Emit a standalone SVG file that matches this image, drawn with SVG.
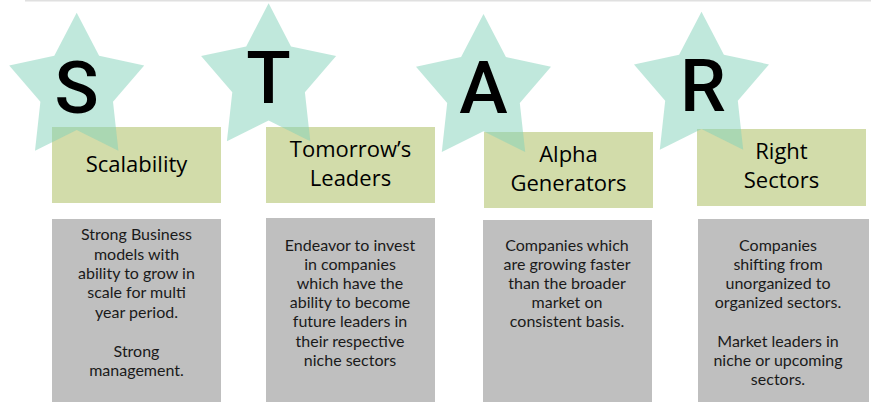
<svg xmlns="http://www.w3.org/2000/svg" width="871" height="402" viewBox="0 0 871 402">
<style>
.star{fill:#81d1b9;opacity:0.5}
.title-box{fill:#d2dcaa}
.body-box{fill:#bfbfbf}
.letter{font-family:Roboto,"Liberation Sans",sans-serif;font-size:73px;font-weight:500;fill:#000;text-anchor:middle}
.title{font-family:"Open Sans","Noto Sans",sans-serif;font-size:22px;font-weight:500;fill:#000;text-anchor:middle}
.body{font-family:Lato,"Open Sans",sans-serif;font-size:16px;fill:#1a1a1a;text-anchor:middle}
</style>
<defs>
<path id="starShape" d="M0,-76.3 L22.4,-33.2 L67.5,-23.6 L36.3,12.7 L41.7,61.7 L0,41 L-41.7,61.7 L-36.3,12.7 L-67.5,-23.6 L-22.4,-33.2 Z"/>
</defs>
<line x1="25" y1="0.5" x2="871" y2="0.5" stroke="#e0e0e0" stroke-width="2"/>
<g id="connectors"></g>
<g id="node-S">
<rect class="title-box" x="52" y="127" width="169" height="76"/>
<use href="#starShape" class="star" transform="translate(76.7,89)"/>
<text class="letter" x="76.5" y="113">S</text>
<text class="title" x="136.5" y="171.5">Scalability</text>
<rect class="body-box" x="52" y="219" width="169" height="183"/>
<text class="body" x="136.5"><tspan x="136.5" y="240">Strong Business</tspan><tspan x="136.5" y="259.5">models with</tspan><tspan x="136.5" y="279">ability to grow in</tspan><tspan x="136.5" y="298.3">scale for multi</tspan><tspan x="136.5" y="317.7">year period.</tspan><tspan x="136.5" y="356.7">Strong</tspan><tspan x="136.5" y="375.7">management.</tspan></text>
</g>
<g id="node-T">
<rect class="title-box" x="266" y="127" width="169" height="76"/>
<use href="#starShape" class="star" transform="translate(268.6,79.6)"/>
<text class="letter" x="268.5" y="103.3">T</text>
<text class="title" x="350.5" y="157.3">Tomorrow’s</text>
<text class="title" x="350.5" y="186">Leaders</text>
<rect class="body-box" x="266" y="218" width="169" height="184"/>
<text class="body"><tspan x="350" y="250.7">Endeavor to invest</tspan><tspan x="350" y="270">in companies</tspan><tspan x="350" y="289.3">which have the</tspan><tspan x="350" y="308.3">ability to become</tspan><tspan x="350" y="327.3">future leaders in</tspan><tspan x="350" y="346.7">their respective</tspan><tspan x="350" y="366">niche sectors</tspan></text>
</g>
<g id="node-A">
<rect class="title-box" x="484" y="132" width="169" height="76"/>
<use href="#starShape" class="star" transform="translate(483.5,90.3)"/>
<text class="letter" x="483.5" y="113.3">A</text>
<text class="title" x="568.5" y="162.3">Alpha</text>
<text class="title" x="568.5" y="190.7">Generators</text>
<rect class="body-box" x="483" y="220" width="169" height="182"/>
<text class="body"><tspan x="567" y="251">Companies which</tspan><tspan x="567" y="270">are growing faster</tspan><tspan x="567" y="289.3">than the broader</tspan><tspan x="567" y="308.3">market on</tspan><tspan x="567" y="327.3">consistent basis.</tspan></text>
</g>
<g id="node-R">
<rect class="title-box" x="697" y="129" width="169" height="77"/>
<use href="#starShape" class="star" transform="translate(701.5,88)"/>
<text class="letter" x="703" y="110.7">R</text>
<text class="title" x="781.5" y="159.3">Right</text>
<text class="title" x="781.5" y="188.3">Sectors</text>
<rect class="body-box" x="698" y="219" width="171" height="183"/>
<text class="body"><tspan x="778" y="251">Companies</tspan><tspan x="778" y="270">shifting from</tspan><tspan x="778" y="289.3">unorganized to</tspan><tspan x="778" y="308.3">organized sectors.</tspan><tspan x="778" y="346.7">Market leaders in</tspan><tspan x="778" y="366">niche or upcoming</tspan><tspan x="778" y="385">sectors.</tspan></text>
</g>
</svg>
